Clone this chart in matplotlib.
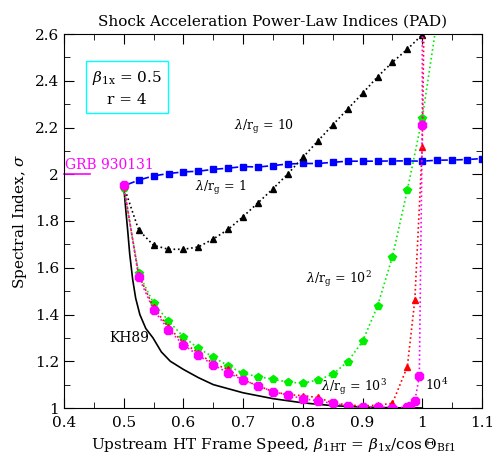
import numpy as np
import matplotlib.pyplot as plt
from matplotlib.ticker import MultipleLocator, FixedFormatter, FixedLocator

plt.rcParams['font.family'] = 'DejaVu Serif'
plt.rcParams['mathtext.fontset'] = 'dejavuserif'

# lambda/r_g = 1 (blue squares)
x_b = [0.5] + [0.525 + 0.025 * i for i in range(24)]
y_b = [1.95, 1.975, 1.993, 2.003, 2.01, 2.013, 2.021, 2.026, 2.033, 2.031, 2.037, 2.044,
       2.046, 2.046, 2.051, 2.056, 2.056, 2.056, 2.057, 2.057, 2.056, 2.06, 2.061, 2.063, 2.067]

# lambda/r_g = 10 (black triangles)
x_k = [0.5 + 0.025 * i for i in range(21)]
y_k = [1.95, 1.762, 1.696, 1.679, 1.679, 1.689, 1.723, 1.764, 1.819, 1.878, 1.938, 2.002,
       2.072, 2.142, 2.211, 2.279, 2.346, 2.417, 2.479, 2.535, 2.597]

# lambda/r_g = 10^2 (green)
x_g = [0.5 + 0.025 * i for i in range(21)] + [1.03]
y_g = [1.94, 1.576, 1.448, 1.372, 1.305, 1.255, 1.218, 1.18, 1.148, 1.134, 1.123, 1.111,
       1.106, 1.12, 1.144, 1.198, 1.285, 1.436, 1.647, 1.933, 2.241, 2.75]

# lambda/r_g = 10^3 (red triangles)
x_r = [0.5 + 0.025 * i for i in range(20)] + [0.9875, 1.0, 1.003]
y_r = [1.95, 1.57, 1.43, 1.345, 1.28, 1.235, 1.19, 1.165, 1.12, 1.095, 1.07, 1.057,
       1.053, 1.045, 1.022, 1.013, 1.009, 1.012, 1.02, 1.177, 1.462, 2.118, 2.7]

# lambda/r_g = 10^4 (magenta)
x_m = [0.5 + 0.025 * i for i in range(20)] + [0.98, 0.9875, 0.995, 1.0, 1.0]
y_m = [1.955, 1.56, 1.42, 1.335, 1.27, 1.225, 1.185, 1.15, 1.12, 1.095, 1.07, 1.055,
       1.04, 1.03, 1.02, 1.01, 1.005, 1.003, 1.002, 1.003, 1.01, 1.03, 1.135, 2.21, 2.7]

# KH89 curve
x_kh = [0.5, 0.503, 0.507, 0.51, 0.515, 0.52, 0.527, 0.537, 0.549, 0.563, 0.578, 0.6, 0.625, 0.65,
        0.7, 0.75, 0.8, 0.85, 0.9, 0.95, 1.0]
y_kh = [1.95, 1.86, 1.75, 1.66, 1.55, 1.47, 1.4, 1.34, 1.3, 1.24, 1.2, 1.165, 1.13, 1.1,
        1.065, 1.04, 1.022, 1.01, 1.004, 1.001, 1.0]

fig = plt.figure(figsize=(4.98, 4.76), dpi=100)
ax = fig.add_axes([64 / 498, 1 - 408 / 476, 418 / 498, 374 / 476])

ax.plot(x_kh, y_kh, 'k-', lw=1.2)
ax.plot(x_b, y_b, ls=(0, (1, 2, 4, 2)), color='blue', lw=1.2, marker='s', ms=4.5)
ax.plot(x_k, y_k, ls=':', color='black', lw=1.2, marker='^', ms=4.5)
ax.plot(x_g, y_g, ls=':', color='#00ee00', lw=1.2, marker='p', ms=6)
ax.plot(x_r, y_r, ls=':', color='red', lw=1.2, marker='^', ms=4.5)
ax.plot(x_m, y_m, ls=':', color='magenta', lw=1.2, marker='8', ms=6)

ax.set_xlim(0.4, 1.1)
ax.set_ylim(1.0, 2.6)
ax.xaxis.set_major_locator(FixedLocator([0.4, 0.5, 0.6, 0.7, 0.8, 0.9, 1.0, 1.1]))
ax.xaxis.set_major_formatter(FixedFormatter(['0.4', '0.5', '0.6', '0.7', '0.8', '0.9', '1', '1.1']))
ax.xaxis.set_minor_locator(MultipleLocator(0.05))
ax.yaxis.set_major_locator(FixedLocator([1, 1.2, 1.4, 1.6, 1.8, 2, 2.2, 2.4, 2.6]))
ax.yaxis.set_major_formatter(FixedFormatter(['1', '1.2', '1.4', '1.6', '1.8', '2', '2.2', '2.4', '2.6']))
ax.yaxis.set_minor_locator(MultipleLocator(0.1))
ax.tick_params(which='both', direction='in', top=True, right=True, labelsize=11)
ax.tick_params(which='major', length=7)
ax.tick_params(which='minor', length=4)
ax.tick_params(axis='x', pad=6)

ax.set_title('Shock Acceleration Power-Law Indices (PAD)', fontsize=11)
ax.set_xlabel(r'Upstream HT Frame Speed, $\beta_{\rm 1HT}$ = $\beta_{\rm 1x}/\cos\Theta_{\rm Bf1}$', fontsize=11)
ax.set_ylabel(r'Spectral Index, $\sigma$', fontsize=11)

ax.plot([0.4, 0.443], [2.0, 2.0], color='magenta', lw=1.2, clip_on=False)
ax.text(0.402, 2.01, 'GRB 930131', color='magenta', fontsize=10, va='bottom')
ax.text(0.505, 2.37, r'$\beta_{\rm 1x}$ = 0.5' + '\n' + 'r = 4', fontsize=11, ha='center', va='center',
        linespacing=1.5,
        bbox=dict(boxstyle='square,pad=0.4', fc='white', ec='cyan', lw=1))
ax.text(0.685, 2.2, r'$\lambda/{\rm r_g}$ = 10', fontsize=9, va='center')
ax.text(0.62, 1.94, r'$\lambda/{\rm r_g}$ = 1', fontsize=9, va='center')
ax.text(0.805, 1.55, r'$\lambda/{\rm r_g}$ = 10$^2$', fontsize=9, va='center')
ax.text(0.83, 1.09, r'$\lambda/{\rm r_g}$ = 10$^3$', fontsize=9, va='center')
ax.text(1.005, 1.1, r'10$^4$', fontsize=9, va='center')
ax.text(0.475, 1.3, 'KH89', fontsize=10, va='center')

fig.savefig('out.png', dpi=100)
